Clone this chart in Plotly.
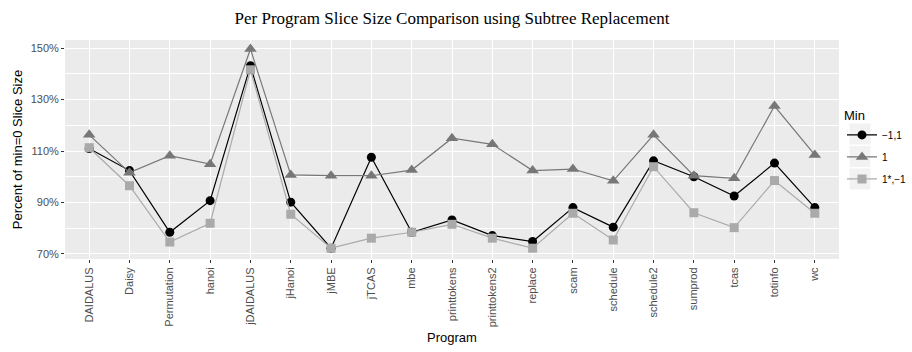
import plotly.graph_objects as go

programs = ["DAIDALUS", "Daisy", "Permutation", "hanoi", "jDAIDALUS", "jHanoi", "jMBE", "jTCAS",
            "mbe", "printtokens", "printtokens2", "replace", "scam", "schedule", "schedule2",
            "sumprod", "tcas", "totinfo", "wc"]
min_neg1_1 = [111.0, 102.4, 78.4, 90.7, 143.2, 90.1, 72.2, 107.6, 78.4, 83.2, 77.1, 74.8, 88.0, 80.4,
              106.2, 100.0, 92.5, 105.3, 88.0]
min_1 = [116.3, 101.6, 108.2, 104.9, 149.7, 100.7, 100.4, 100.4, 102.6, 115.0, 112.6, 102.4, 103.0,
         98.4, 116.3, 100.4, 99.4, 127.5, 108.5]
min_1star = [111.3, 96.5, 74.6, 81.9, 141.6, 85.4, 72.2, 76.1, 78.4, 81.5, 76.1, 72.2, 85.8, 75.4,
             103.9, 86.0, 80.2, 98.5, 85.8]
series_names = ["\u22121,1", "1", "1*,\u22121"]
y_ticks = [70, 90, 110, 130, 150]
y_tick_labels = ["70%", "90%", "110%", "130%", "150%"]

W, H = 912, 352
ML, MR, MT, MB = 65, 73, 40, 93
PW, PH = W - ML - MR, H - MT - MB

fig = go.Figure()
styles = [("#000000", "circle", 9), ("#777777", "triangle-up", 11), ("#AAAAAA", "square", 9)]
for i, (name, vals, (col, sym, sz)) in enumerate(zip(series_names, [min_neg1_1, min_1, min_1star], styles)):
    fig.add_trace(go.Scatter(
        x=programs, y=vals, name=name, mode="lines+markers", legendgroup=f"g{i}",
        line=dict(color=col, width=1.2),
        marker=dict(color=col, symbol=sym, size=sz, line=dict(width=0)),
    ))

# ggplot-style grey95 legend key backgrounds
def px_to_paper(x, y):
    return (x - ML) / PW, (H - MB - y) / PH

shapes = []
for cy in [134, 156.5, 179]:
    x0, y0 = px_to_paper(849.5, cy + 10.5)
    x1, y1 = px_to_paper(870.5, cy - 10.5)
    shapes.append(dict(type="rect", xref="paper", yref="paper", x0=x0, x1=x1, y0=y0, y1=y1,
                       fillcolor="#F2F2F2", line=dict(width=0), layer="below"))

fig.update_layout(
    width=W, height=H,
    margin=dict(l=ML, r=MR, t=MT, b=MB, autoexpand=False),
    paper_bgcolor="white", plot_bgcolor="#EBEBEB",
    font=dict(family="Liberation Sans, Arial, sans-serif", size=11, color="#4D4D4D"),
    title=dict(text="Per Program Slice Size Comparison using Subtree Replacement",
               font=dict(family="Liberation Serif, Times New Roman, serif", size=17, color="black"),
               x=0.5, xref="paper", xanchor="center", y=0.95, yref="container", yanchor="middle"),
    legend=dict(title=dict(text="Min", font=dict(size=13, color="black")),
                font=dict(size=10, color="black"),
                xref="container", x=1.0, xanchor="right", y=0.71, yanchor="top",
                bgcolor="rgba(0,0,0,0)", tracegroupgap=3, itemwidth=30),
    showlegend=True,
    shapes=shapes,
)
fig.update_xaxes(
    type="category", range=[-0.6, 18.6], tickangle=-90, automargin=False,
    showgrid=True, gridcolor="white", gridwidth=1.1,
    ticks="outside", ticklen=3, tickcolor="#333333", tickwidth=1,
    tickfont=dict(size=11, color="#4D4D4D"),
    title=dict(text="Program", font=dict(size=13, color="black"), standoff=6),
    zeroline=False, showline=False,
)
fig.update_yaxes(
    range=[68.0, 153.2], tickvals=y_ticks, ticktext=y_tick_labels, automargin=False,
    showgrid=True, gridcolor="white", gridwidth=1.1,
    minor=dict(tickvals=[80, 100, 120, 140], showgrid=True, gridcolor="white", gridwidth=0.5),
    ticks="outside", ticklen=3, tickcolor="#333333", tickwidth=1,
    tickfont=dict(size=11, color="#4D4D4D"),
    title=dict(text="Percent of min=0 Slice Size", font=dict(size=13, color="black"), standoff=5),
    zeroline=False, showline=False,
)

fig.write_html("out.html", config={"displayModeBar": False},
               post_script="document.body.style.margin='0';document.body.style.overflow='hidden';")
